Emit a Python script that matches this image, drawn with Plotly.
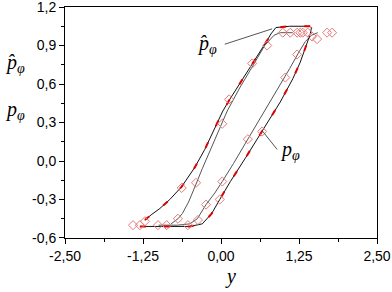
import plotly.graph_objects as go

# ---- data ----
# outer upper branch (model, black)
xA = [1.43, 1.10, 0.88, 0.80, 0.74, 0.62, 0.50, 0.30, 0.14, 0.03, -0.12, -0.26, -0.42, -0.63, -0.82, -0.98, -1.12, -1.22]
yA = [1.05, 1.05, 1.04, 0.99, 0.94, 0.85, 0.76, 0.61, 0.48, 0.39, 0.24, 0.09, -0.05, -0.20, -0.30, -0.37, -0.42, -0.46]
# inner upper branch (model, grey)
xB = [1.15, 0.95, 0.85, 0.70, 0.52, 0.30, 0.10, 0.02, -0.15, -0.30, -0.40, -0.52, -0.62, -0.69, -0.80]
yB = [1.00, 1.00, 0.98, 0.90, 0.75, 0.57, 0.39, 0.30, 0.12, -0.06, -0.18, -0.32, -0.41, -0.45, -0.49]
# inner lower branch (model, grey)
xC = [-1.00, -0.70, -0.50, -0.38, -0.24, -0.10, 0.02, 0.20, 0.43, 0.70, 0.95, 1.10, 1.25, 1.35, 1.45, 1.55]
yC = [-0.50, -0.50, -0.49, -0.45, -0.34, -0.25, -0.16, -0.02, 0.17, 0.39, 0.60, 0.72, 0.85, 0.93, 0.98, 1.00]
# outer lower branch (model, black)
xD = [-1.30, -0.90, -0.50, -0.30, -0.15, -0.02, 0.15, 0.40, 0.66, 0.95, 1.15, 1.27, 1.38, 1.43, 1.45]
yD = [-0.51, -0.51, -0.51, -0.49, -0.41, -0.30, -0.16, 0.03, 0.23, 0.46, 0.64, 0.77, 0.92, 0.99, 1.04]

# measured points (diamonds)
xP = [-1.41, -1.30, -1.22, -1.01, -0.87, -0.69, -0.53, -0.37, -0.24, -0.63, -0.40, 0.02, -0.02, 0.02,
      0.43, 0.66, 0.13, 0.50, 0.74, 1.03, 1.22, 0.99, 1.11, 1.22, 1.27, 1.31, 1.39, 1.46, 1.54, 1.70, 1.78]
yP = [-0.50, -0.50, -0.47, -0.50, -0.50, -0.45, -0.50, -0.46, -0.34, -0.21, -0.17, -0.16, -0.30, 0.29,
      0.17, 0.23, 0.48, 0.76, 0.90, 0.65, 0.83, 1.00, 1.00, 1.00, 1.00, 1.00, 1.00, 0.97, 0.95, 1.00, 1.00]

x_ticks = [-2.5, -1.25, 0.0, 1.25, 2.5]
x_ticklabels = ["-2,50", "-1,25", "0,00", "1,25", "2,50"]
y_ticks = [-0.6, -0.3, 0.0, 0.3, 0.6, 0.9, 1.2]
y_ticklabels = ["-0,6", "-0,3", "0,0", "0,3", "0,6", "0,9", "1,2"]

fig = go.Figure()
fig.add_trace(go.Scatter(x=xB, y=yB, mode="lines", line=dict(color="#555555", width=1), showlegend=False))
fig.add_trace(go.Scatter(x=xC, y=yC, mode="lines", line=dict(color="#555555", width=1), showlegend=False))
fig.add_trace(go.Scatter(x=xA, y=yA, mode="lines", line=dict(color="#111111", width=1), showlegend=False))
fig.add_trace(go.Scatter(x=xD, y=yD, mode="lines", line=dict(color="#111111", width=1), showlegend=False))
fig.add_trace(go.Scatter(x=xA, y=yA, mode="lines", line=dict(color="#e00000", width=2, dash="6px,18px"), showlegend=False))
fig.add_trace(go.Scatter(x=xD, y=yD, mode="lines", line=dict(color="#e00000", width=2, dash="6px,18px"), showlegend=False))
fig.add_trace(go.Scatter(x=xP, y=yP, mode="markers",
                         marker=dict(symbol="diamond-open", size=7, color="#e67a7a", line=dict(width=1)),
                         showlegend=False))

serif = "Liberation Serif"
ann = []
ann.append(dict(x=-0.22, y=0.91, xref="x", yref="y", text="<i>p̂</i><sub><i>φ</i></sub>", showarrow=False,
                xanchor="center", yanchor="middle", font=dict(family=serif, size=20, color="black")))
ann.append(dict(x=1.11, y=0.08, xref="x", yref="y", text="<i>p</i><sub><i>φ</i></sub>", showarrow=False,
                xanchor="center", yanchor="middle", font=dict(family=serif, size=20, color="black")))
# y-axis titles
ann.append(dict(x=-0.16, y=0.755, xref="paper", yref="paper", text="<i>p̂</i><sub><i>φ</i></sub>", showarrow=False,
                xanchor="center", yanchor="middle", font=dict(family=serif, size=20, color="black")))
ann.append(dict(x=-0.16, y=0.55, xref="paper", yref="paper", text="<i>p</i><sub><i>φ</i></sub>", showarrow=False,
                xanchor="center", yanchor="middle", font=dict(family=serif, size=20, color="black")))
# x-axis title
ann.append(dict(x=0.529, y=-0.165, xref="paper", yref="paper", text="<i>y</i>", showarrow=False,
                xanchor="center", yanchor="middle", font=dict(family=serif, size=20, color="black")))

shapes = [
    dict(type="line", xref="x", yref="y", x0=0.06, y0=0.91, x1=0.82, y1=1.03, line=dict(color="#555555", width=1)),
    dict(type="line", xref="x", yref="y", x0=0.67, y0=0.23, x1=0.90, y1=0.09, line=dict(color="#555555", width=1)),
]

fig.update_layout(
    width=392, height=292,
    margin=dict(l=65, r=15, t=7, b=54, autoexpand=False),
    paper_bgcolor="white", plot_bgcolor="white",
    annotations=ann, shapes=shapes,
    font=dict(family="Liberation Sans", size=14, color="black"),
    xaxis=dict(range=[-2.5, 2.5], tickvals=x_ticks, ticktext=x_ticklabels, showgrid=False, zeroline=False,
               showline=True, linecolor="black", linewidth=1, mirror=True, automargin=False,
               ticklabeloverflow="allow",
               ticks="outside", ticklen=5, tickcolor="black",
               minor=dict(tickvals=[-1.875, -0.625, 0.625, 1.875], ticks="outside", ticklen=3, tickcolor="black")),
    yaxis=dict(range=[-0.6001, 1.2001], tickvals=y_ticks, ticktext=y_ticklabels, showgrid=False, zeroline=False,
               showline=True, linecolor="black", linewidth=1, mirror=True, automargin=False,
               ticklabeloverflow="allow",
               ticks="outside", ticklen=5, tickcolor="black",
               minor=dict(tickvals=[-0.45, -0.15, 0.15, 0.45, 0.75, 1.05], ticks="outside", ticklen=3, tickcolor="black")),
)
fig.write_html("out.html", config={"displayModeBar": False},
               post_script="document.body.style.margin='0';document.body.style.overflow='hidden';")
